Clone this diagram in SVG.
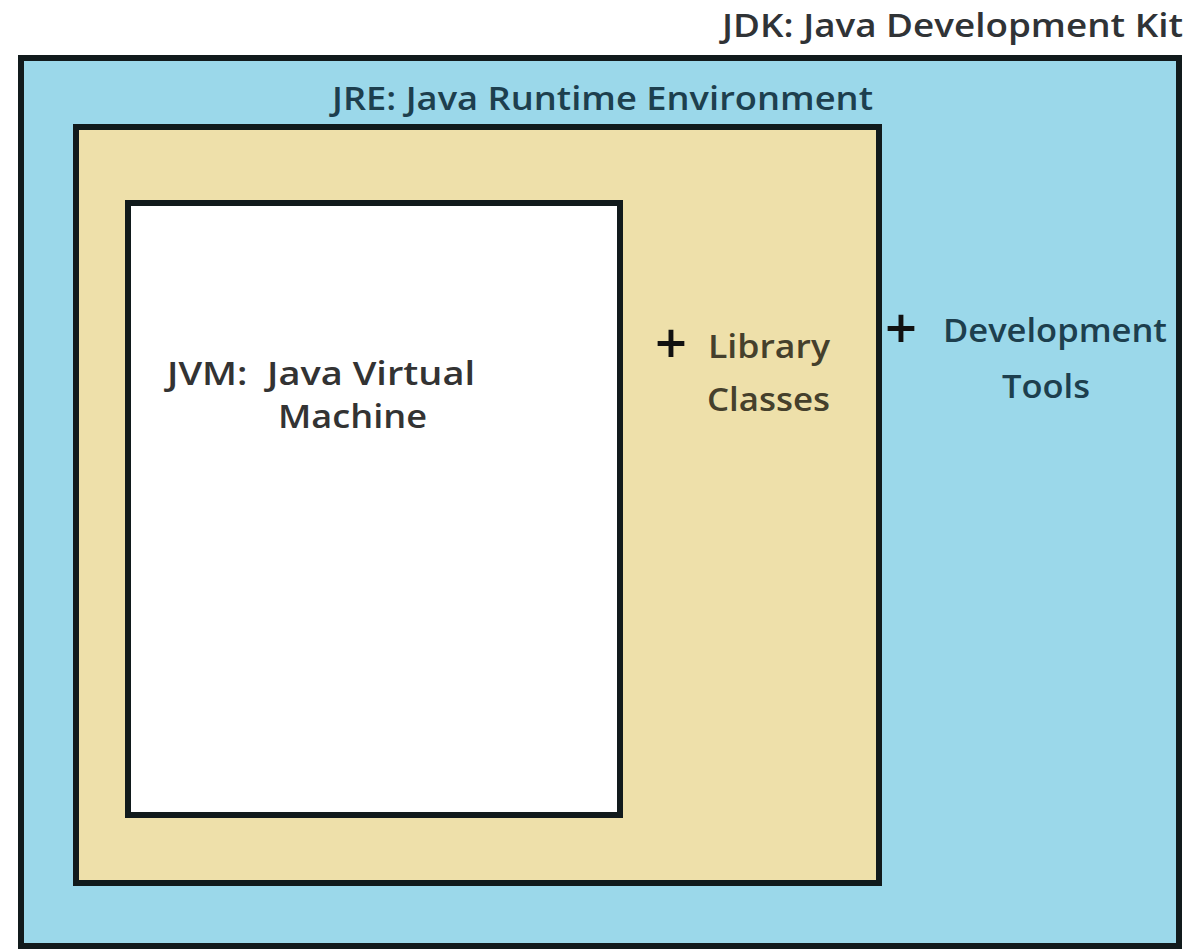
<svg xmlns="http://www.w3.org/2000/svg" width="1187" height="949" viewBox="0 0 1187 949">
<style>
.box{stroke:#111a1c;stroke-width:6}
.t{font-family:"Open Sans","Liberation Sans",sans-serif;font-size:33px;font-weight:600}
.jdk{fill:#303336}
.blue{fill:#1d3f4e}
.tan{fill:#45402c}
.jvm{fill:#333333}
.plus{fill:#111111;font-size:56px;font-weight:600}
</style>
<rect width="1187" height="949" fill="#ffffff"/>
<g id="jdk">
<rect class="box" x="21" y="58" width="1158" height="888" fill="#9bd8ea"/>
<text class="t jdk" x="1183" y="37" text-anchor="end" textLength="461" lengthAdjust="spacingAndGlyphs">JDK: Java Development Kit</text>
<text class="t plus" x="885" y="348">+</text>
<text class="t blue" x="943" y="342" textLength="224" lengthAdjust="spacingAndGlyphs">Development</text>
<text class="t blue" x="1002" y="398" textLength="88" lengthAdjust="spacingAndGlyphs">Tools</text>
</g>
<g id="jre">
<rect class="box" x="76" y="127" width="803" height="756" fill="#eee0aa"/>
<text class="t blue" x="332" y="110" textLength="541" lengthAdjust="spacingAndGlyphs">JRE: Java Runtime Environment</text>
<text class="t plus" x="655" y="363">+</text>
<text class="t tan" x="708" y="358" textLength="122" lengthAdjust="spacingAndGlyphs">Library</text>
<text class="t tan" x="707" y="411" textLength="123" lengthAdjust="spacingAndGlyphs">Classes</text>
</g>
<g id="jvm">
<rect class="box" x="128" y="203" width="492" height="612" fill="#ffffff"/>
<text class="t jvm" x="167" y="385" textLength="308" lengthAdjust="spacingAndGlyphs" xml:space="preserve">JVM:  Java Virtual</text>
<text class="t jvm" x="278" y="428" textLength="149" lengthAdjust="spacingAndGlyphs">Machine</text>
</g>
<g id="connectors"/>
</svg>
